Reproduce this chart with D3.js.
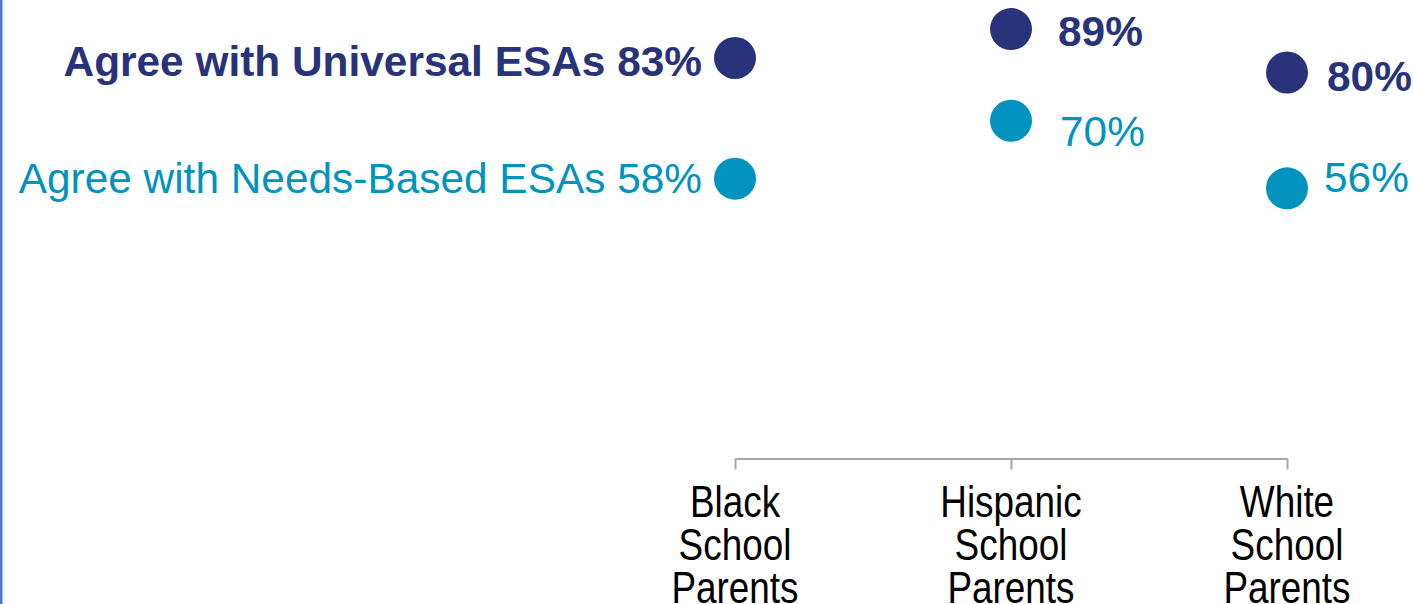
<!DOCTYPE html>
<html>
<head>
<meta charset="utf-8">
<script src="https://cdn.jsdelivr.net/npm/d3@7"></script>
<style>
  html, body { margin: 0; padding: 0; background: #fff; }
  svg { display: block; }
</style>
</head>
<body>
<svg id="chart" width="1413" height="604"></svg>
<script>
// Share of school parents agreeing with each ESA design, by group
const categories = ["Black School Parents", "Hispanic School Parents", "White School Parents"];
const seriesNames = ["Agree with Universal ESAs", "Agree with Needs-Based ESAs"];
const universalValues = [83, 89, 80];
const needsBasedValues = [58, 70, 56];

const colors = ["#28337A", "#0093BE"];
const weights = ["bold", "normal"];

// fine nudges for the value labels (px), per series and category
const labelDx = [[0, 47, 40], [0, 49, 37]];
const labelDy = [[0, 17, 18], [0, 25, 4]];

const W = 1413, H = 604;
const svg = d3.select("#chart");

// thin accent rule at the left edge
const grad = svg.append("defs").append("linearGradient").attr("id", "edge")
  .attr("x1", 0).attr("x2", 1).attr("y1", 0).attr("y2", 0);
grad.append("stop").attr("offset", "0").attr("stop-color", "#4a78c6");
grad.append("stop").attr("offset", "0.35").attr("stop-color", "#4a78c6");
grad.append("stop").attr("offset", "0.45").attr("stop-color", "#e8eef8");
grad.append("stop").attr("offset", "1").attr("stop-color", "#ffffff");
svg.append("rect").attr("x", 0).attr("y", 0).attr("width", 6).attr("height", H).attr("fill", "url(#edge)");

const x = d3.scalePoint().domain(categories).range([735, 1287]).padding(0);
const y = d3.scaleLinear().domain([0, 100]).range([458.5, -24]);

const series = [universalValues, needsBasedValues].map((vals, s) => ({
  name: seriesNames[s],
  color: colors[s],
  weight: weights[s],
  points: categories.map((c, i) => ({ cat: c, i, s, value: vals[i] }))
}));

// category axis along the zero line
const axis = d3.axisBottom(x).tickSize(11).tickSizeOuter(0).tickFormat("");
const gAxis = svg.append("g").attr("transform", `translate(0,${y(0)})`).call(axis);
gAxis.selectAll("path, line").attr("stroke", "#a6a6a6").attr("stroke-width", 2);

// category labels, three lines each in a narrow face
categories.forEach(c => {
  const g = svg.append("g").attr("transform", `translate(${x(c)},516.5) scale(0.82,1)`);
  const t = g.append("text")
    .attr("text-anchor", "middle")
    .attr("font-family", "'Liberation Sans', Arial, sans-serif")
    .attr("font-size", 45)
    .attr("fill", "#000");
  c.split(" ").forEach((w, k) => {
    t.append("tspan").attr("x", 0).attr("y", k * 43.5).text(w);
  });
});

// dots
series.forEach(sr => {
  svg.append("g").selectAll("circle")
    .data(sr.points)
    .join("circle")
    .attr("cx", d => x(d.cat))
    .attr("cy", d => y(d.value))
    .attr("r", 21)
    .attr("fill", sr.color);
});

// labels: first category carries the series name, others show the value
series.forEach(sr => {
  sr.points.forEach(d => {
    const t = svg.append("text")
      .attr("font-family", "'Liberation Sans', Arial, sans-serif")
      .attr("font-size", 42.4)
      .attr("font-weight", sr.weight)
      .attr("fill", sr.color);
    if (d.i === 0) {
      t.attr("text-anchor", "end")
        .attr("x", x(d.cat) - 33)
        .attr("y", y(d.value) + (d.s === 0 ? 18 : 14))
        .text(`${sr.name} ${d.value}%`);
    } else {
      t.attr("text-anchor", "start")
        .attr("x", x(d.cat) + labelDx[d.s][d.i])
        .attr("y", y(d.value) + labelDy[d.s][d.i])
        .text(`${d.value}%`);
    }
  });
});
</script>
</body>
</html>
